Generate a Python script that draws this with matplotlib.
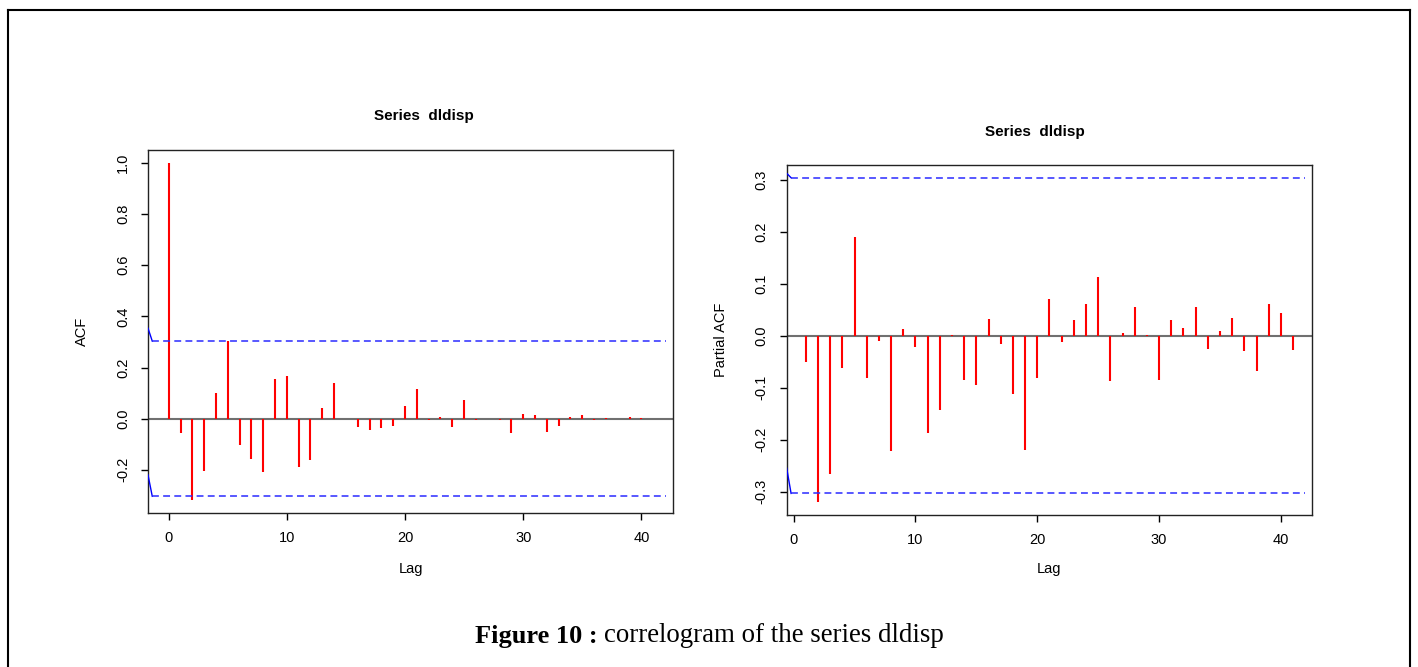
import matplotlib
matplotlib.use("Agg")
import matplotlib.pyplot as plt
from matplotlib.lines import Line2D

plt.rcParams['font.family'] = ['Liberation Sans', 'DejaVu Sans']

# ACF values, lags 0..41
acf_lags = list(range(0, 42))
acf_vals = [1.0, -0.055, -0.318, -0.205, 0.099, 0.303, -0.103, -0.156, -0.208, 0.154,
            0.166, -0.188, -0.162, 0.041, 0.141, -0.003, -0.034, -0.044, -0.036, -0.028,
            0.050, 0.115, -0.005, 0.007, -0.034, 0.072, -0.006, -0.003, -0.006, -0.057,
            0.018, 0.013, -0.052, -0.027, 0.005, 0.013, -0.006, 0.001, -0.003, 0.007,
            0.001, -0.001]

# PACF values, lags 1..41
pacf_lags = list(range(1, 42))
pacf_vals = [-0.051, -0.320, -0.267, -0.063, 0.190, -0.081, -0.011, -0.221, 0.012, -0.021,
             -0.188, -0.143, 0.001, -0.085, -0.095, 0.031, -0.017, -0.113, -0.220, -0.082,
             0.070, -0.013, 0.030, 0.061, 0.112, -0.087, 0.005, 0.054, 0.001, -0.085,
             0.030, 0.014, 0.054, -0.026, 0.008, 0.033, -0.030, -0.068, 0.061, 0.044,
             -0.027]

clim = 0.3035
# little solid blue bits where the dashed bounds begin (export artifact)
acf_edge = [0.354, -0.22]
pacf_edge = [0.312, -0.255]

acf_yticks = [-0.2, 0.0, 0.2, 0.4, 0.6, 0.8, 1.0]
pacf_yticks = [-0.3, -0.2, -0.1, 0.0, 0.1, 0.2, 0.3]
xticks = [0, 10, 20, 30, 40]

W, H = 1418, 667
fig = plt.figure(figsize=(W / 100, H / 100), dpi=100)


def fx(px):
    return px / W


def fy(py):
    return 1 - py / H


def panel(rect, lags, vals, xlim, ylim, yticks, ylabel, edge):
    ax = fig.add_axes(rect)
    ax.set_xlim(xlim)
    ax.set_ylim(ylim)
    ax.axhline(0, color='#707070', lw=1.5, zorder=1)
    ax.vlines(lags, 0, vals, color='red', lw=1.5, zorder=2)
    for sgn, e in zip([1, -1], edge):
        ax.plot([xlim[0], xlim[0] + 0.36], [e, sgn * clim], color='blue', lw=1, zorder=3)
        ax.plot([xlim[0] + 0.36, xlim[1] - 0.6], [sgn * clim, sgn * clim], color='#2a2aff',
                lw=1.1, dashes=(4.5, 2.8), zorder=3)
    ax.set_xticks(xticks)
    ax.set_yticks(yticks)
    ax.set_yticklabels(['%.1f' % t for t in yticks], rotation=90, va='center')
    ax.tick_params(axis='both', direction='out', length=5, width=1, labelsize=10.5,
                   color='black')
    ax.tick_params(axis='y', pad=8)
    ax.tick_params(axis='x', pad=8)
    for s in ax.spines.values():
        s.set_linewidth(1)
        s.set_color('#222222')
    ax.set_ylabel(ylabel, fontsize=10.5)
    ax.yaxis.set_label_coords(-0.112, 0.5)
    ax.set_xlabel('Lag', fontsize=10.5)
    ax.xaxis.set_label_coords(0.5, -0.135)
    return ax


panel([fx(148), fy(513), fx(673) - fx(148), fy(150) - fy(513)], acf_lags, acf_vals,
      (-1.752, 42.68), (-0.369, 1.051), acf_yticks, 'ACF', acf_edge)
panel([fx(786.7), fy(515), fx(1312.3) - fx(786.7), fy(165) - fy(515)], pacf_lags, pacf_vals,
      (-0.575, 42.58), (-0.345, 0.328), pacf_yticks, 'Partial ACF', pacf_edge)

fig.text(fx(423.5), fy(116), 'Series  dldisp', ha='center', va='center', fontsize=11,
         fontweight='bold')
fig.text(fx(1035), fy(132), 'Series  dldisp', ha='center', va='center', fontsize=11,
         fontweight='bold')

# caption
fig.text(fx(598), fy(636), 'Figure 10 :', ha='right', va='center', fontsize=19,
         fontweight='bold', family='Liberation Serif')
fig.text(fx(604), fy(636), 'correlogram of the series dldisp', ha='left', va='center',
         fontsize=19.4, family='Liberation Serif')

# outer frame
for xs, ys in [([8, 8], [10, 680]), ([8, 1410], [10, 10]), ([1410, 1410], [10, 680])]:
    fig.add_artist(Line2D([fx(x) for x in xs], [fy(y) for y in ys], color='black', lw=1.5))

fig.savefig('out.png', dpi=100)
